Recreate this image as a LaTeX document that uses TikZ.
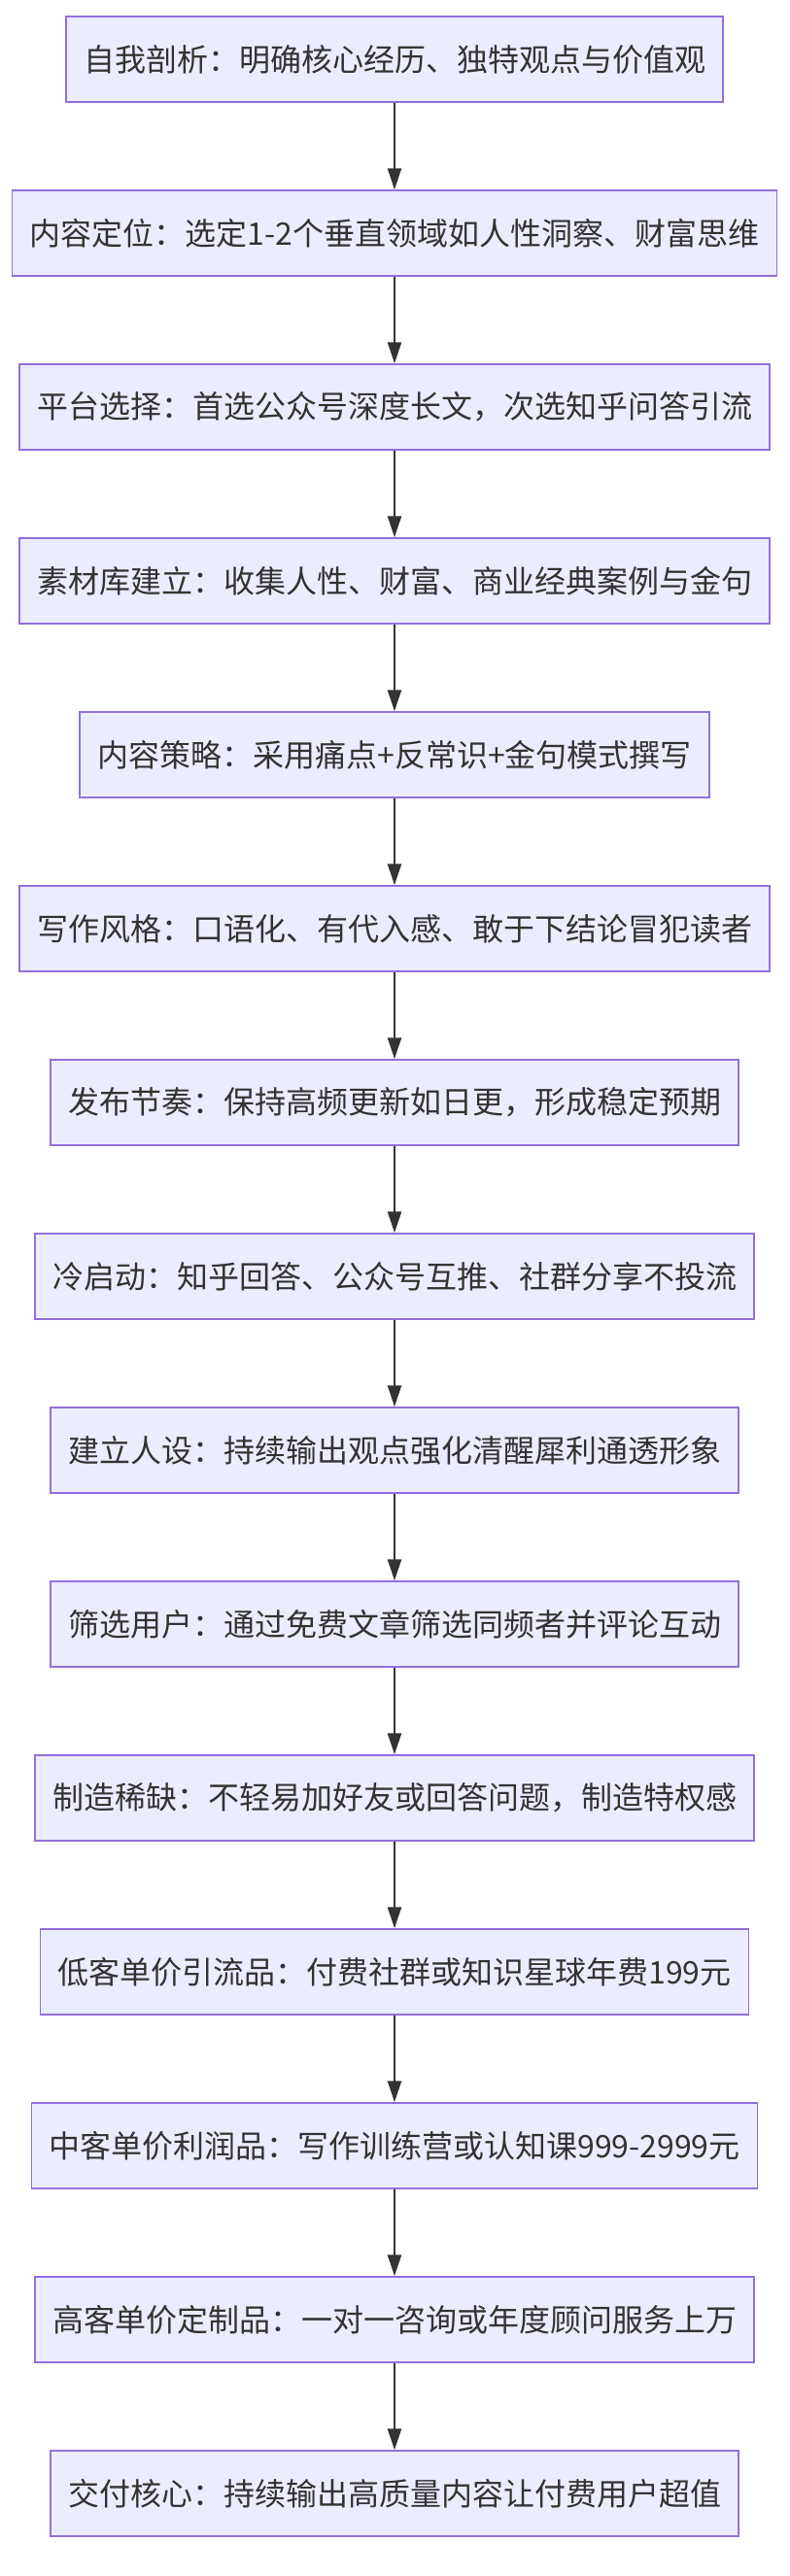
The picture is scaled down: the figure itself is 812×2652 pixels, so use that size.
\documentclass[tikz,border=0pt]{standalone}
\usepackage{fontspec}
\setmainfont{Noto Sans CJK SC}
\usetikzlibrary{positioning,arrows.meta}
\definecolor{step fill}{HTML}{ECECFF}
\definecolor{step line}{HTML}{9370DB}
\definecolor{flow line}{HTML}{333333}

\begin{document}
\begin{tikzpicture}[x=1pt,y=1pt,
		stepbox/.style={draw=step line, fill=step fill, line width=1.5pt,
			minimum height=88pt, inner xsep=18pt, text=flow line,
			font=\fontsize{32}{36}\selectfont},
		flow/.style={draw=flow line, line width=2.5pt, -{Triangle[length=22pt,width=14pt]}},
		node distance=89.5pt]
			% page frame
			\useasboundingbox (0, 0) rectangle (812, -2652);
			% steps
			\node[stepbox] (s1) at (406, -61) {自我剖析：明确核心经历、独特观点与价值观};
			\node[stepbox, below=of s1] (s2) {内容定位：选定1-2个垂直领域如人性洞察、财富思维};
			\node[stepbox, below=of s2] (s3) {平台选择：首选公众号深度长文，次选知乎问答引流};
			\node[stepbox, below=of s3] (s4) {素材库建立：收集人性、财富、商业经典案例与金句};
			\node[stepbox, below=of s4] (s5) {内容策略：采用痛点+反常识+金句模式撰写};
			\node[stepbox, below=of s5] (s6) {写作风格：口语化、有代入感、敢于下结论冒犯读者};
			\node[stepbox, below=of s6] (s7) {发布节奏：保持高频更新如日更，形成稳定预期};
			\node[stepbox, below=of s7] (s8) {冷启动：知乎回答、公众号互推、社群分享不投流};
			\node[stepbox, below=of s8] (s9) {建立人设：持续输出观点强化清醒犀利通透形象};
			\node[stepbox, below=of s9] (s10) {筛选用户：通过免费文章筛选同频者并评论互动};
			\node[stepbox, below=of s10] (s11) {制造稀缺：不轻易加好友或回答问题，制造特权感};
			\node[stepbox, below=of s11] (s12) {低客单价引流品：付费社群或知识星球年费199元};
			\node[stepbox, below=of s12] (s13) {中客单价利润品：写作训练营或认知课999-2999元};
			\node[stepbox, below=of s13] (s14) {高客单价定制品：一对一咨询或年度顾问服务上万};
			\node[stepbox, below=of s14] (s15) {交付核心：持续输出高质量内容让付费用户超值};
			% arrows
			\foreach \a/\b in {s1/s2, s2/s3, s3/s4, s4/s5, s5/s6, s6/s7, s7/s8,
				s8/s9, s9/s10, s10/s11, s11/s12, s12/s13, s13/s14, s14/s15}
				\draw[flow] (\a) -- (\b);
		\end{tikzpicture}
\end{document}
